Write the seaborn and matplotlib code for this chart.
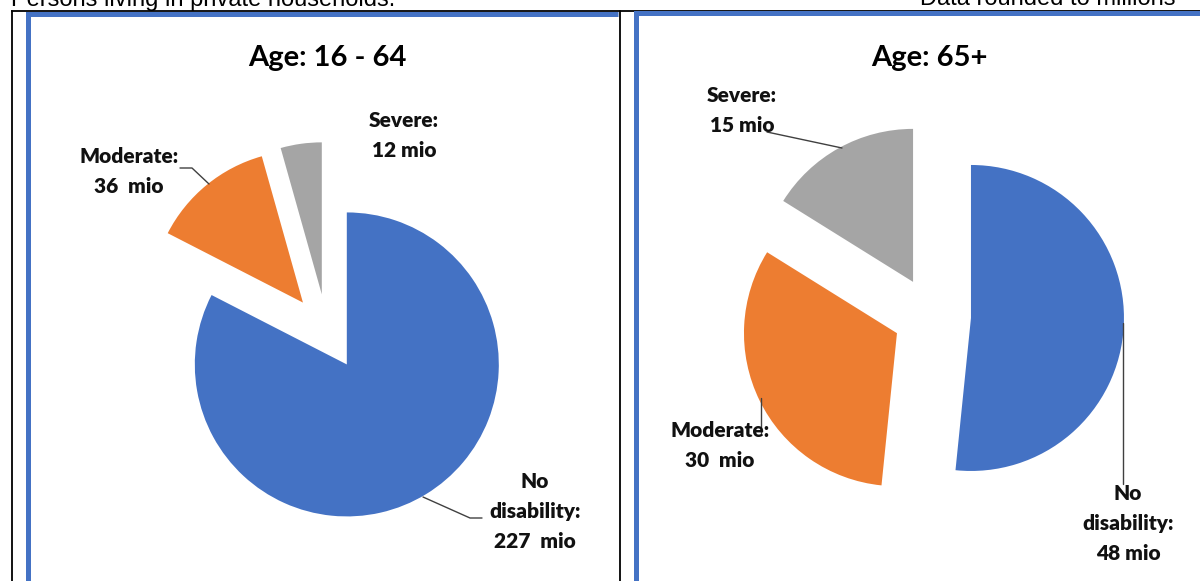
import matplotlib
matplotlib.use("Agg")
import matplotlib.pyplot as plt
import seaborn as sns

# Persons living in private households, by disability status (millions)
categories = ["No disability", "Moderate", "Severe"]
age_16_64 = [227, 36, 12]
age_65_plus = [48, 30, 15]
panel_titles = ["Age: 16 - 64", "Age: 65+"]
header_left = "Persons living in private households."
header_right = "Data rounded to millions"

sns.set_theme(style="white")
plt.rcParams["font.family"] = ["Lato", "DejaVu Sans"]

colors = ["#4472C4", "#ED7D31", "#A5A5A5"]
W, H = 1200, 581

fig = plt.figure(figsize=(W / 100, H / 100), dpi=100)
ax = fig.add_axes([0, 0, 1, 1])


def fy(y):
    """Convert a top-down pixel row into the axes' bottom-up coordinate."""
    return H - y


def draw_pie(values, center, radius, explode_frac=0.25):
    # pie's explode offset is in data units, so scale it by the radius
    ax.pie(values, colors=colors, startangle=90, counterclock=False,
           explode=[explode_frac * radius] * len(values),
           center=(center[0], fy(center[1])),
           radius=radius, frame=True,
           wedgeprops=dict(linewidth=0, antialiased=True))


draw_pie(age_16_64, (327, 332), 152)
draw_pie(age_65_plus, (932, 316), 153, explode_frac=0.255)

# table frame and panel borders
ax.plot([11, W], [fy(10.5), fy(10.5)], color="black", lw=1.3, solid_capstyle="butt")
ax.plot([11.5, 11.5], [fy(10.5), 0], color="black", lw=1.3)
ax.plot([620, 620], [fy(10.5), 0], color="black", lw=1.3)
blue_border = "#4472C4"
ax.plot([27.5, 27.5], [0, fy(14)], color=blue_border, lw=3.6, solid_capstyle="projecting")
ax.plot([27.5, 618], [fy(14), fy(14)], color=blue_border, lw=3.6, solid_capstyle="butt")
ax.plot([635.5, 635.5], [0, fy(13)], color=blue_border, lw=3.6, solid_capstyle="projecting")
ax.plot([635.5, W], [fy(13), fy(13)], color=blue_border, lw=3.6, solid_capstyle="butt")

# header texts (partly above the visible area)
ax.text(11, fy(6), header_left, family="Liberation Sans", fontsize=17,
        ha="left", va="baseline", color="black")
ax.text(1176, fy(5), header_right, family="Liberation Sans", fontsize=17,
        ha="right", va="baseline", color="black")

# panel titles
ax.text(327, fy(66), panel_titles[0], fontsize=21, fontweight="bold",
        ha="center", va="baseline", color="black")
ax.text(929, fy(66), panel_titles[1], fontsize=21, fontweight="bold",
        ha="center", va="baseline", color="black")


def label(x, y_top_baseline, name, value, gap="  "):
    words = name.split(" ")
    if len(words) > 1:
        lines = [words[0], " ".join(words[1:]).lower() + ":"]
    else:
        lines = [name + ":"]
    lines.append(f"{value}{gap}mio")
    for i, line in enumerate(lines):
        ax.text(x, fy(y_top_baseline + 30 * i), line, fontsize=15,
                fontweight="heavy", ha="center", va="baseline", color="#111111")


line_kw = dict(color="#404040", lw=1.0)

# 16 - 64 labels
label(129, 163, categories[1], age_16_64[1])
label(404, 127, categories[2], age_16_64[2], gap=" ")
label(535, 488, categories[0], age_16_64[0])
ax.plot([180, 192, 209], [fy(168), fy(168), fy(184)], **line_kw)
ax.plot([423, 470, 482], [fy(497), fy(518), fy(518)], **line_kw)

# 65+ labels
label(742, 102, categories[2], age_65_plus[2], gap=" ")
label(720, 437, categories[1], age_65_plus[1])
label(1128, 500, categories[0], age_65_plus[0], gap=" ")
ax.plot([767, 842], [fy(132), fy(148)], **line_kw)
ax.plot([761, 761], [fy(398), fy(433)], **line_kw)
ax.plot([1123, 1123], [fy(323), fy(484)], **line_kw)

ax.set_xlim(0, W)
ax.set_ylim(0, H)
ax.set_aspect("equal")
ax.axis("off")

fig.savefig("out.png", dpi=100)
